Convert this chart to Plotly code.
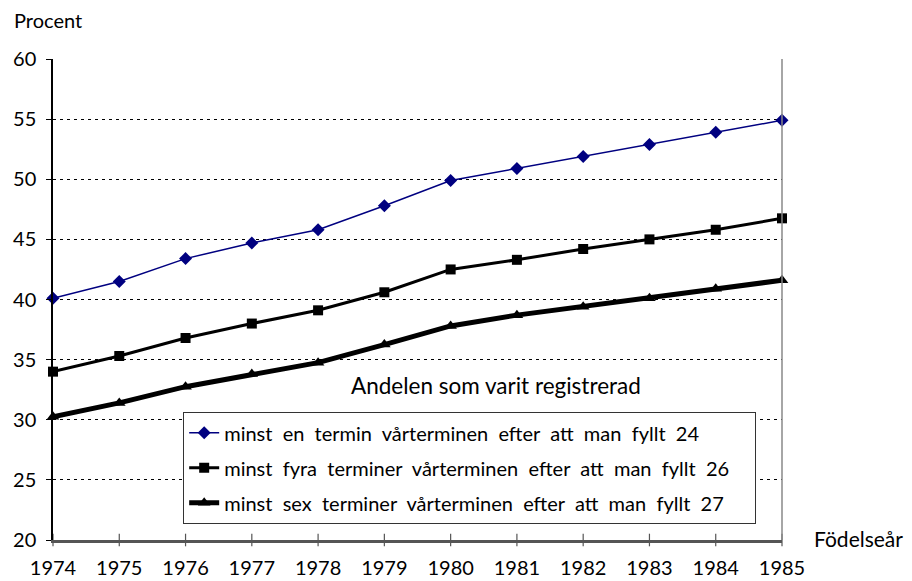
import plotly.graph_objects as go

years = [1974, 1975, 1976, 1977, 1978, 1979, 1980, 1981, 1982, 1983, 1984, 1985]
minst_en = [40.1, 41.5, 43.4, 44.7, 45.8, 47.8, 49.9, 50.9, 51.9, 52.9, 53.9, 54.9]
minst_fyra = [34.0, 35.3, 36.8, 38.0, 39.1, 40.6, 42.5, 43.3, 44.2, 45.0, 45.8, 46.75]
minst_sex = [30.25, 31.4, 32.75, 33.8, 34.75, 36.25, 37.8, 38.7, 39.4, 40.1, 40.9, 41.6]
names = ["minst  en  termin  vårterminen  efter  att  man  fyllt  24",
         "minst  fyra  terminer  vårterminen  efter  att  man  fyllt  26",
         "minst  sex  terminer  vårterminen  efter  att  man  fyllt  27"]
y_ticks = [20, 25, 30, 35, 40, 45, 50, 55, 60]
y_min, y_max = 20, 60

FONT = "Lato, 'Open Sans', sans-serif"
PAD = "\u00a0\u00a0\u00a0\u00a0"

fig = go.Figure()
fig.add_trace(go.Scatter(x=years, y=minst_en, name=names[0] + PAD, mode="lines+markers",
                         line=dict(color="#000080", width=1.5),
                         marker=dict(symbol="diamond", size=10, color="#000080"),
                         legendgroup="a", cliponaxis=False))
fig.add_trace(go.Scatter(x=years, y=minst_fyra, name=names[1] + PAD, mode="lines+markers",
                         line=dict(color="black", width=3),
                         marker=dict(symbol="square", size=10, color="black"),
                         legendgroup="b", cliponaxis=False))
fig.add_trace(go.Scatter(x=years, y=minst_sex, name=names[2] + PAD, mode="lines+markers",
                         line=dict(color="black", width=5),
                         marker=dict(symbol="triangle-up", size=11, color="black"),
                         legendgroup="c", cliponaxis=False))
# x-axis tick marks crossing the axis line
fig.add_trace(go.Scatter(x=years, y=[y_min] * len(years), mode="markers",
                         marker=dict(symbol="line-ns", size=9,
                                     line=dict(color="#555555", width=1.2)),
                         showlegend=False, hoverinfo="skip", cliponaxis=False))

fig.update_layout(
    width=904, height=573,
    margin=dict(l=45, r=130, t=51, b=41, autoexpand=False),
    paper_bgcolor="white", plot_bgcolor="white",
    font=dict(family=FONT, size=20, color="black"),
    showlegend=True,
    legend=dict(x=0.1783, y=0.266, xanchor="left", yanchor="top",
                bordercolor="#333333", borderwidth=1.2, bgcolor="white",
                font=dict(size=20), itemwidth=30, tracegroupgap=6,
                traceorder="grouped"),
    xaxis=dict(range=[1974, 1985], tickmode="array", tickvals=years,
               ticktext=[str(y) for y in years], automargin=False,
               showgrid=False, zeroline=False,
               showline=True, linecolor="#555555", linewidth=2.5,
               ticks="", tickfont=dict(size=20), ticklabelstandoff=8),
    yaxis=dict(range=[y_min, y_max], tickmode="array", tickvals=y_ticks,
               automargin=False,
               showgrid=True, gridcolor="black", griddash="3px,4px", gridwidth=1,
               zeroline=False, showline=True, linecolor="black", linewidth=1.5,
               ticks="outside", ticklen=5, tickcolor="black",
               tickfont=dict(size=20), ticklabelstandoff=6),
    annotations=[
        dict(text="Procent", xref="paper", yref="paper", x=-0.0562, y=1.081,
             xanchor="left", yanchor="middle", showarrow=False,
             font=dict(size=20)),
        dict(text="Födelseår", xref="paper", yref="paper", x=1.0412, y=0.004,
             xanchor="left", yanchor="middle", showarrow=False,
             font=dict(size=21)),
        dict(text="Andelen som varit registrerad", xref="paper", yref="paper",
             x=0.6077, y=0.322, xanchor="center", yanchor="middle",
             showarrow=False, font=dict(size=22.5)),
    ],
    shapes=[
        dict(type="line", xref="paper", yref="paper", x0=1, x1=1, y0=0, y1=1,
             line=dict(color="#888888", width=1.5)),
    ],
)

fig.write_html("out.html")
